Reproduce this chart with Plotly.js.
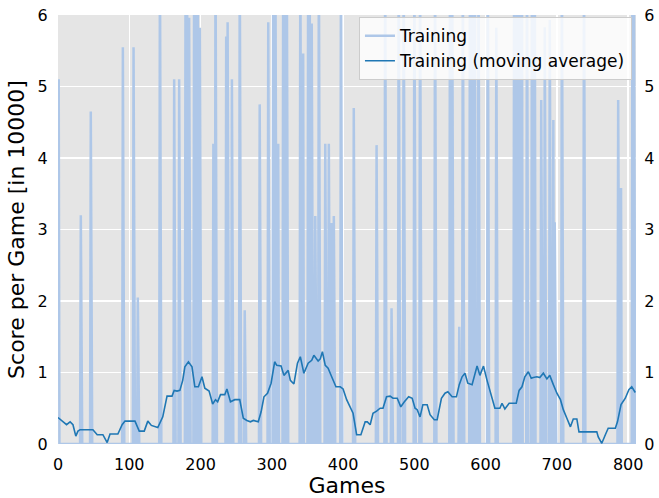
<!DOCTYPE html>
<html>
<head>
<meta charset="utf-8">
<script src="https://cdn.plot.ly/plotly-3.0.1.min.js"></script>
<style>html,body{margin:0;padding:0;background:#fff;}#chart{width:659px;height:498px;}</style>
</head>
<body>
<div id="chart"></div>
<script>
// Number of games played (x axis extent)
const totalGames = 811;

// Training scores (in 10000): games with non-zero score; all other games scored 0.
// Values above 6 are clipped by the axis in the reference (drawn as 7).
const spikeGames = [0, 1, 32, 46, 91, 106, 112, 143, 144, 163, 170, 179, 181, 184, 191, 194, 196, 199,
  218, 221, 236, 238, 244, 255, 262, 283, 295, 302, 305, 309, 316, 318, 321, 340, 344, 351, 353, 356,
  361, 366, 375, 380, 384, 387, 397, 415, 447, 459, 468, 478, 485, 500, 508, 529, 550, 553, 563, 568,
  578, 581, 585, 590, 603, 615, 640, 644, 647, 651, 658, 665, 669, 678, 683, 690, 695, 697, 707, 738,
  786, 790, 806, 808];
const spikeScores = [2.8, 5.1, 3.2, 4.65, 5.55, 5.55, 2.05, 7, 3.1, 5.1, 5.1, 7, 7, 5.96, 7, 7, 7, 5.82,
  4.2, 7, 5.7, 5.9, 5.1, 7, 1.87, 4.75, 5.9, 7, 7, 4.2, 7, 7, 7, 7, 5.46, 7, 7, 5.88,
  3.19, 7, 4.2, 4.2, 3.09, 3.19, 7, 4.7, 4.18, 7, 1.9, 7, 7, 7, 7, 7, 7, 7, 1.64, 7,
  7, 7, 7, 7, 7, 5.82, 7, 7, 7, 7, 7, 7, 7, 4.81, 5.83, 5.93, 4.53, 3.1, 7, 7,
  4.81, 3.58, 7, 7];

// Moving average of the training score
const maGames = [0, 7, 12, 17, 21, 25, 28, 31, 49, 55, 63, 69, 73, 84, 90, 94, 108, 114, 121, 126, 131, 140,
  147, 153, 160, 163, 167, 171, 175, 178, 183, 188, 192, 197, 202, 206, 212, 217, 221, 224, 228, 234, 237,
  242, 248, 255, 260, 265, 270, 274, 281, 285, 289, 294, 299, 304, 307, 313, 317, 323, 326, 331, 336, 340,
  345, 351, 356, 359, 365, 368, 371, 375, 379, 384, 390, 396, 400, 405, 410, 414, 419, 425, 431, 434, 438,
  442, 447, 452, 456, 461, 466, 470, 476, 481, 486, 492, 497, 501, 504, 508, 512, 518, 522, 528, 532, 535,
  538, 543, 547, 553, 559, 563, 567, 571, 575, 581, 588, 592, 597, 602, 606, 613, 620, 623, 627, 633, 643,
  647, 651, 655, 660, 664, 667, 672, 676, 681, 686, 690, 695, 700, 705, 709, 714, 719, 723, 728, 731, 756,
  758, 763, 768, 772, 782, 785, 790, 796, 801, 805, 810];
const maScores = [0.37, 0.31, 0.27, 0.31, 0.27, 0.11, 0.18, 0.2, 0.2, 0.13, 0.13, 0.02, 0.14, 0.14, 0.27, 0.32, 0.32, 0.18, 0.18, 0.32, 0.26, 0.23,
  0.38, 0.67, 0.67, 0.75, 0.74, 0.75, 0.89, 1.08, 1.15, 1.08, 0.8, 0.8, 0.94, 0.78, 0.74, 0.56, 0.62, 0.59, 0.69, 0.69, 0.77,
  0.59, 0.62, 0.62, 0.36, 0.33, 0.31, 0.33, 0.31, 0.45, 0.66, 0.71, 0.85, 1.15, 1.1, 1.09, 0.96, 1.03, 0.89, 0.84, 1.13, 1.22,
  0.99, 1.13, 1.17, 1.24, 1.16, 1.19, 1.29, 1.1, 1.06, 0.94, 0.8, 0.8, 0.77, 0.62, 0.5, 0.43, 0.13, 0.13, 0.31, 0.31, 0.27,
  0.43, 0.46, 0.5, 0.5, 0.66, 0.67, 0.64, 0.64, 0.52, 0.59, 0.66, 0.64, 0.5, 0.48, 0.38, 0.55, 0.55, 0.41, 0.34, 0.34, 0.5,
  0.64, 0.71, 0.73, 0.66, 0.66, 0.83, 0.94, 0.99, 0.85, 0.83, 1.09, 0.96, 1.09, 0.89, 0.75, 0.5, 0.5, 0.57, 0.49, 0.57, 0.57,
  0.75, 0.8, 0.94, 1.01, 0.92, 0.93, 0.94, 0.93, 0.99, 0.91, 0.96, 0.83, 0.71, 0.62, 0.48, 0.36, 0.24, 0.35, 0.35, 0.17, 0.17,
  0.1, 0.01, 0.13, 0.22, 0.22, 0.31, 0.55, 0.64, 0.76, 0.8, 0.72];

const xTicks = [0, 100, 200, 300, 400, 500, 600, 700, 800];
const yTicks = [0, 1, 2, 3, 4, 5, 6];

// Build the per-game training series from the non-zero entries
const trainX = [], trainY = [];
const scoreByGame = {};
spikeGames.forEach((g, i) => { scoreByGame[g] = spikeScores[i]; });
for (let g = 0; g < totalGames; g++) {
  trainX.push(g);
  trainY.push(scoreByGame[g] !== undefined ? scoreByGame[g] : 0);
}

const FONT = 'DejaVu Sans, sans-serif';

const traces = [
  {x: trainX, y: trainY, type: 'scatter', mode: 'lines', name: 'Training',
   line: {color: '#aec7e8', width: 2.5}, hoverinfo: 'skip'},
  {x: maGames, y: maScores, type: 'scatter', mode: 'lines', name: 'Training (moving average)',
   line: {color: '#1f77b4', width: 1.6}, hoverinfo: 'skip'},
  {x: [0], y: [0], yaxis: 'y2', type: 'scatter', mode: 'markers', showlegend: false,
   marker: {opacity: 0}, hoverinfo: 'skip'}
];

const layout = {
  width: 659, height: 498,
  margin: {l: 58, r: 23, t: 15, b: 54, pad: 0},
  paper_bgcolor: '#ffffff',
  plot_bgcolor: '#e5e5e5',
  font: {family: FONT, color: '#000', size: 16},
  showlegend: true,
  legend: {
    x: 0.993, y: 0.995, xanchor: 'right', yanchor: 'top',
    bgcolor: 'rgba(255,255,255,0.8)', bordercolor: '#cccccc', borderwidth: 1,
    font: {family: FONT, size: 17, color: '#000'}
  },
  xaxis: {
    range: [0, totalGames], tickvals: xTicks, ticktext: xTicks.map(String),
    showgrid: true, gridcolor: '#ffffff', gridwidth: 1.5, zeroline: false,
    showline: false, ticks: 'outside', ticklen: 6, tickcolor: 'rgba(0,0,0,0)',
    tickfont: {family: FONT, size: 16, color: '#000'},
    title: {text: 'Games', font: {family: FONT, size: 22, color: '#000'}, standoff: 6},
    automargin: false
  },
  yaxis: {
    range: [0, 6], tickvals: yTicks, ticktext: yTicks.map(String),
    showgrid: true, gridcolor: '#ffffff', gridwidth: 1.5, zeroline: false,
    showline: false, ticks: 'outside', ticklen: 6, tickcolor: 'rgba(0,0,0,0)',
    tickfont: {family: FONT, size: 16, color: '#000'},
    title: {text: 'Score per Game [in 10000]', font: {family: FONT, size: 22, color: '#000'}, standoff: 6},
    automargin: false
  },
  yaxis2: {
    range: [0, 6], tickvals: yTicks, ticktext: yTicks.map(String),
    overlaying: 'y', side: 'right', anchor: 'x',
    showgrid: false, zeroline: false, showline: false,
    ticks: 'outside', ticklen: 4, tickcolor: 'rgba(0,0,0,0)',
    tickfont: {family: FONT, size: 16, color: '#000'},
    automargin: false
  }
};

Plotly.newPlot('chart', traces, layout, {displayModeBar: false, staticPlot: true});
</script>
</body>
</html>
